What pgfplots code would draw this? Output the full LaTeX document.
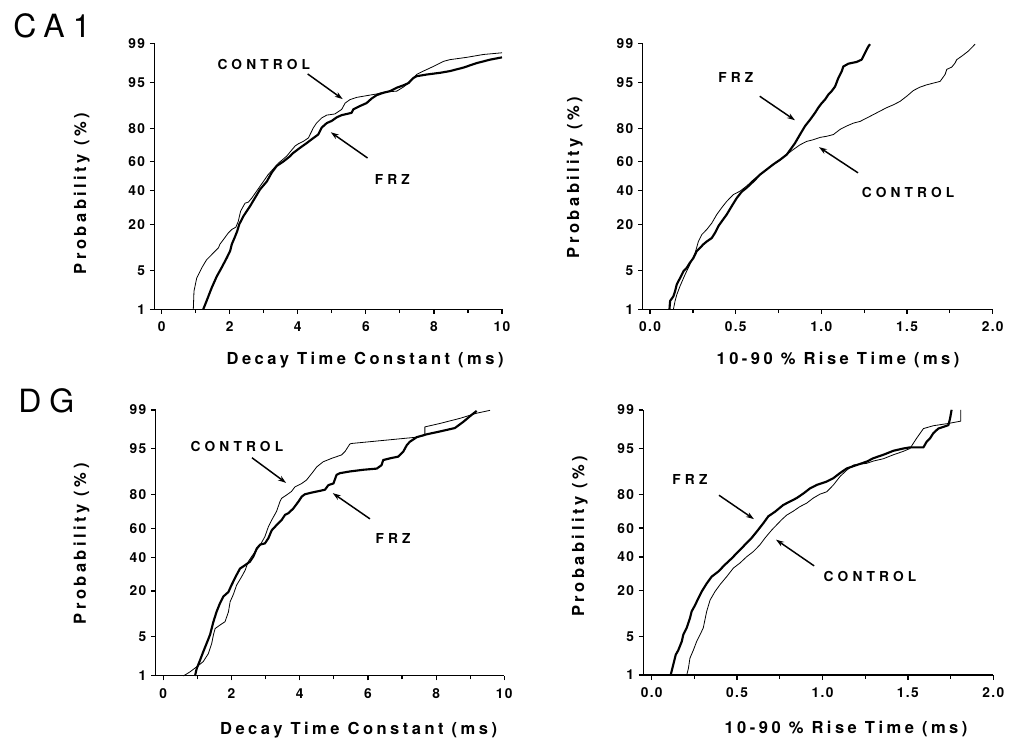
\documentclass[border=0pt]{standalone}
\usepackage{fontspec}
\setmainfont{TeX Gyre Heros}
\newfontfamily\labfont{TeX Gyre Heros}[LetterSpace=21]
\newfontfamily\tickfont{TeX Gyre Heros}[LetterSpace=10]
\newfontfamily\annfont{TeX Gyre Heros}[LetterSpace=30]
\newfontfamily\bigfont{TeX Gyre Heros}[LetterSpace=25]
\usepackage{pgfplots}
\pgfplotsset{compat=1.18}
\usetikzlibrary{arrows.meta}

% y values are probit (normal quantile) positions of the probabilities
\pgfplotsset{
  probax/.style={
    scale only axis, clip=false,
    axis x line*=bottom, axis y line*=left,
    axis line style={line width=1.1pt},
    ymin=-2.326, ymax=2.326,
    ytick={-2.326,-1.645,-0.842,-0.253,0.253,0.842,1.645,2.326},
    yticklabels={1,5,20,40,60,80,95,99},
    tick align=outside,
    major tick length=3.5pt, minor tick length=2.8pt,
    tick style={black, line width=0.9pt},
    tick label style={font=\tickfont\bfseries\fontsize{10.3}{11}\selectfont},
    xticklabel style={yshift=-2.5pt},
    label style={font=\labfont\bfseries\fontsize{12.4}{13}\selectfont},
    ylabel={Probability (\%)},
  },
  decayax/.style={probax, xmin=-0.21, xmax=10, xtick={0,2,4,6,8,10},
    xticklabels={0,2,4,6,8,10}, minor x tick num=1,
    xlabel={Decay Time Constant (ms)}},
  riseax/.style={probax, xmin=-0.043, xmax=2, xtick={0,0.5,1,1.5,2},
    xticklabels={0.0,0.5,1.0,1.5,2.0}, minor x tick num=1,
    xlabel={10-90 \% Rise Time (ms)}},
  frz/.style={black, line width=1.6pt, line join=round},
  ctl/.style={black, line width=0.6pt, line join=round},
}
\tikzset{
  ann/.style={font=\annfont\bfseries\fontsize{10.3}{11}\selectfont, inner sep=0pt},
  arr/.style={-{Stealth[length=6pt,width=4pt]}, line width=1.1pt},
}

\begin{document}
\begin{tikzpicture}
\path[use as bounding box] (0,0) rectangle (763.5pt,555pt);

\node[anchor=base west, inner sep=0pt, font=\bigfont\fontsize{24}{24}\selectfont] at (9.75pt,526.5pt) {CA1};
\node[anchor=base west, inner sep=0pt, font=\bigfont\fontsize{24}{24}\selectfont] at (13.5pt,245.25pt) {DG};

% CA1 decay
\begin{axis}[decayax, at={(115.875pt,323.025pt)}, anchor=south west,
  width=260.625pt, height=199.5pt,
  xlabel style={at={(axis description cs:0.606,-0.209)}, anchor=base},
  ylabel style={at={(axis description cs:-0.197,0.435)}, anchor=base}]
\addplot[ctl] coordinates {(0.93,-2.33)(0.95,-2.01)(1.03,-1.78)(1.18,-1.60)(1.32,-1.46)(1.52,-1.34)(1.67,-1.25)(1.71,-1.19)(1.96,-0.99)(2.06,-0.93)(2.18,-0.89)(2.25,-0.79)(2.32,-0.61)(2.45,-0.47)(2.55,-0.45)(2.65,-0.38)(2.79,-0.26)(2.99,-0.09)(3.13,0.03)(3.43,0.23)(3.67,0.35)(3.92,0.53)(4.02,0.57)(4.16,0.61)(4.31,0.67)(4.46,0.85)(4.55,0.93)(4.70,1.02)(4.85,1.07)(5.09,1.09)(5.29,1.17)(5.39,1.28)(5.53,1.34)(5.73,1.38)(6.12,1.42)(6.32,1.44)(6.51,1.47)(6.71,1.48)(6.91,1.49)(7.10,1.56)(7.30,1.65)(7.35,1.69)(7.49,1.78)(7.69,1.84)(7.98,1.92)(8.28,2.01)(8.47,2.04)(8.96,2.08)(9.45,2.13)(10.00,2.16)};
\addplot[frz] coordinates {(1.22,-2.33)(1.32,-2.18)(1.47,-1.95)(1.62,-1.75)(1.76,-1.60)(1.91,-1.43)(2.01,-1.31)(2.06,-1.19)(2.16,-1.05)(2.22,-0.96)(2.28,-0.84)(2.40,-0.70)(2.60,-0.52)(2.74,-0.38)(2.89,-0.23)(3.09,-0.09)(3.23,0.06)(3.38,0.18)(3.58,0.26)(3.77,0.35)(3.87,0.41)(4.07,0.50)(4.26,0.58)(4.46,0.67)(4.60,0.73)(4.70,0.85)(4.85,0.93)(5.00,0.97)(5.14,1.03)(5.29,1.07)(5.44,1.09)(5.58,1.11)(5.63,1.17)(5.83,1.23)(6.02,1.28)(6.17,1.36)(6.32,1.42)(6.51,1.46)(6.71,1.49)(6.91,1.55)(7.10,1.59)(7.25,1.63)(7.40,1.72)(7.49,1.75)(7.79,1.78)(8.18,1.81)(8.47,1.84)(8.86,1.90)(9.26,1.98)(9.65,2.04)(10.00,2.08)};
\node[ann] at (axis cs:3.0,1.96) {CONTROL};
\draw[arr] (axis cs:4.29,1.79) -- (axis cs:5.32,1.35);
\node[ann] at (axis cs:6.78,-0.05) {FRZ};
\draw[arr] (axis cs:6.05,0.32) -- (axis cs:4.97,0.77);
\end{axis}

% CA1 rise
\begin{axis}[riseax, at={(482.025pt,323.025pt)}, anchor=south west,
  width=262.5pt, height=199.5pt,
  xlabel style={at={(axis description cs:0.558,-0.209)}, anchor=base},
  ylabel style={at={(axis description cs:-0.182,0.495)}, anchor=base}]
\addplot[ctl] coordinates {(0.136,-2.33)(0.146,-2.18)(0.156,-2.07)(0.175,-1.92)(0.204,-1.72)(0.233,-1.54)(0.263,-1.34)(0.282,-1.14)(0.302,-1.02)(0.331,-0.93)(0.360,-0.82)(0.389,-0.67)(0.418,-0.55)(0.447,-0.44)(0.486,-0.32)(0.525,-0.26)(0.564,-0.17)(0.603,-0.06)(0.642,0.03)(0.681,0.12)(0.720,0.21)(0.759,0.28)(0.798,0.38)(0.837,0.47)(0.875,0.55)(0.914,0.61)(0.953,0.64)(0.992,0.68)(1.031,0.70)(1.070,0.73)(1.109,0.82)(1.148,0.88)(1.187,0.93)(1.226,0.96)(1.265,1.02)(1.304,1.08)(1.342,1.14)(1.381,1.20)(1.420,1.25)(1.459,1.31)(1.498,1.40)(1.537,1.50)(1.576,1.56)(1.615,1.60)(1.654,1.63)(1.693,1.66)(1.722,1.78)(1.732,1.87)(1.761,1.91)(1.780,1.98)(1.790,2.04)(1.819,2.10)(1.858,2.19)(1.897,2.31)};
\addplot[frz] coordinates {(0.113,-2.33)(0.117,-2.18)(0.136,-2.10)(0.146,-2.01)(0.156,-1.89)(0.175,-1.78)(0.195,-1.66)(0.214,-1.60)(0.233,-1.51)(0.253,-1.43)(0.272,-1.31)(0.292,-1.25)(0.311,-1.19)(0.331,-1.14)(0.360,-1.08)(0.379,-0.99)(0.399,-0.87)(0.418,-0.79)(0.447,-0.67)(0.477,-0.52)(0.506,-0.38)(0.535,-0.27)(0.564,-0.20)(0.603,-0.09)(0.642,0.03)(0.681,0.12)(0.720,0.21)(0.759,0.29)(0.798,0.38)(0.827,0.50)(0.846,0.58)(0.875,0.73)(0.905,0.88)(0.934,0.99)(0.963,1.11)(0.982,1.20)(1.002,1.28)(1.021,1.34)(1.041,1.43)(1.060,1.49)(1.080,1.57)(1.099,1.72)(1.119,1.84)(1.128,1.92)(1.158,1.97)(1.206,2.00)(1.235,2.04)(1.255,2.16)(1.274,2.27)(1.284,2.31)};
\node[ann] at (axis cs:0.50,1.72) {FRZ};
\draw[arr] (axis cs:0.64,1.40) -- (axis cs:0.846,0.98);
\node[ann] at (axis cs:1.506,-0.29) {CONTROL};
\draw[arr] (axis cs:1.214,0.06) -- (axis cs:0.986,0.51);
\end{axis}

% DG decay
\begin{axis}[decayax, xmin=-0.223, at={(116.775pt,48.225pt)}, anchor=south west,
  width=261.45pt, height=199.275pt,
  xlabel style={at={(axis description cs:0.582,-0.22)}, anchor=base},
  ylabel style={at={(axis description cs:-0.200,0.496)}, anchor=base}]
\addplot[ctl] coordinates {(0.59,-2.33)(0.78,-2.26)(0.98,-2.17)(1.17,-2.08)(1.32,-1.94)(1.42,-1.76)(1.47,-1.61)(1.52,-1.50)(1.66,-1.44)(1.81,-1.38)(1.91,-1.21)(1.96,-1.03)(2.05,-0.91)(2.15,-0.74)(2.30,-0.59)(2.40,-0.48)(2.49,-0.33)(2.59,-0.24)(2.69,-0.16)(2.84,-0.04)(2.98,0.11)(3.08,0.28)(3.18,0.40)(3.32,0.55)(3.42,0.72)(3.47,0.78)(3.62,0.84)(3.76,0.90)(3.86,0.98)(4.06,1.04)(4.20,1.10)(4.40,1.25)(4.50,1.33)(4.69,1.42)(4.94,1.48)(5.23,1.54)(5.33,1.60)(5.47,1.73)(5.52,1.74)(7.43,1.85)(7.67,1.88)(7.67,2.03)(8.11,2.09)(8.70,2.18)(9.19,2.27)(9.58,2.32)};
\addplot[frz] coordinates {(0.93,-2.33)(0.98,-2.20)(1.08,-2.05)(1.17,-1.91)(1.27,-1.76)(1.37,-1.61)(1.47,-1.38)(1.56,-1.21)(1.66,-1.06)(1.76,-0.94)(1.91,-0.86)(2.00,-0.74)(2.15,-0.56)(2.25,-0.45)(2.40,-0.39)(2.54,-0.33)(2.64,-0.24)(2.74,-0.10)(2.84,-0.03)(2.98,-0.01)(3.08,0.08)(3.18,0.22)(3.32,0.31)(3.47,0.40)(3.57,0.49)(3.67,0.52)(3.81,0.60)(3.96,0.72)(4.06,0.81)(4.15,0.85)(4.35,0.88)(4.59,0.91)(4.74,0.93)(4.84,1.01)(4.99,1.04)(5.08,1.19)(5.18,1.22)(5.47,1.25)(5.87,1.28)(6.26,1.30)(6.40,1.36)(6.45,1.45)(6.65,1.48)(6.89,1.51)(7.04,1.60)(7.14,1.71)(7.23,1.77)(7.43,1.85)(7.72,1.90)(8.11,1.95)(8.55,2.01)(8.80,2.12)(9.04,2.24)(9.19,2.31)};
\node[ann] at (axis cs:2.16,1.68) {CONTROL};
\draw[arr] (axis cs:2.60,1.49) -- (axis cs:3.60,1.05);
\node[ann] at (axis cs:6.74,0.07) {FRZ};
\draw[arr] (axis cs:6.06,0.42) -- (axis cs:4.97,0.87);
\end{axis}

% DG rise
\begin{axis}[riseax, xmin=-0.049, at={(482.475pt,48.75pt)}, anchor=south west,
  width=262.5pt, height=198.75pt,
  xlabel style={at={(axis description cs:0.579,-0.22)}, anchor=base},
  ylabel style={at={(axis description cs:-0.169,0.523)}, anchor=base}]
\addplot[ctl] coordinates {(0.205,-2.33)(0.215,-2.21)(0.224,-2.03)(0.244,-1.89)(0.263,-1.74)(0.283,-1.62)(0.302,-1.50)(0.322,-1.21)(0.342,-1.01)(0.371,-0.86)(0.400,-0.74)(0.439,-0.60)(0.478,-0.45)(0.517,-0.36)(0.556,-0.25)(0.595,-0.16)(0.634,-0.04)(0.664,0.08)(0.703,0.22)(0.732,0.31)(0.761,0.40)(0.790,0.48)(0.829,0.55)(0.868,0.63)(0.907,0.69)(0.946,0.78)(0.986,0.85)(1.025,0.89)(1.064,1.01)(1.103,1.16)(1.142,1.27)(1.181,1.36)(1.259,1.39)(1.298,1.43)(1.356,1.47)(1.415,1.54)(1.473,1.60)(1.512,1.65)(1.551,1.83)(1.591,2.00)(1.649,2.05)(1.737,2.09)(1.809,2.13)(1.809,2.33)};
\addplot[frz] coordinates {(0.111,-2.33)(0.121,-2.21)(0.131,-2.09)(0.141,-1.97)(0.156,-1.89)(0.176,-1.74)(0.185,-1.62)(0.205,-1.50)(0.224,-1.33)(0.234,-1.21)(0.254,-1.10)(0.273,-0.98)(0.293,-0.86)(0.322,-0.72)(0.351,-0.60)(0.390,-0.51)(0.429,-0.39)(0.468,-0.28)(0.507,-0.16)(0.546,-0.04)(0.585,0.08)(0.615,0.19)(0.654,0.34)(0.683,0.46)(0.722,0.54)(0.771,0.66)(0.810,0.72)(0.849,0.78)(0.888,0.86)(0.927,0.95)(0.966,1.01)(1.025,1.07)(1.064,1.13)(1.103,1.22)(1.142,1.30)(1.200,1.36)(1.259,1.42)(1.298,1.48)(1.356,1.54)(1.415,1.61)(1.473,1.65)(1.512,1.67)(1.591,1.67)(1.610,1.77)(1.630,1.83)(1.649,1.92)(1.678,2.00)(1.737,2.06)(1.747,2.18)(1.756,2.33)};
\node[ann] at (axis cs:0.224,1.10) {FRZ};
\draw[arr] (axis cs:0.394,0.83) -- (axis cs:0.599,0.41);
\node[ann] at (axis cs:1.278,-0.60) {CONTROL};
\draw[arr] (axis cs:0.951,-0.41) -- (axis cs:0.728,0.05);
\end{axis}
\end{tikzpicture}
\end{document}
